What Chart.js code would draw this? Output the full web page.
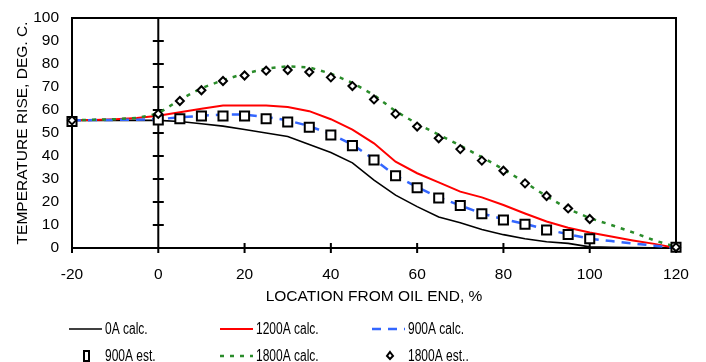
<!DOCTYPE html>
<html>
<head>
<meta charset="utf-8">
<script src="https://cdn.jsdelivr.net/npm/chart.js@4.4.0/dist/chart.umd.min.js"></script>
<style>
  html, body { margin: 0; padding: 0; background: #fff; }
</style>
</head>
<body>
<canvas id="grafico" width="706" height="362"></canvas>
<script>
// --- Datos ---
const posCalc = [-20, -15, -10, -5, 0, 5, 10, 15, 20, 25, 30, 35, 40, 45, 50, 55, 60, 65, 70, 75, 80, 85, 90, 95, 100, 105, 110, 115, 120];
const calc0A = [55.5, 55.5, 55.5, 55.5, 55.5, 55, 54, 53, 51.5, 50, 48.5, 45, 41.5, 37, 29.5, 23, 18, 13.5, 11, 8, 5.8, 4, 2.7, 2, 0.5, 0.3, 0.2, 0.1, 0];
const calc1200A = [55.5, 55.7, 56, 56.5, 57.5, 59, 60.5, 62, 62, 62, 61.3, 59.5, 56, 51.5, 45.5, 37.5, 32.5, 28.5, 24.5, 22, 18.7, 15, 11.5, 8.8, 6.7, 5, 3.3, 1.8, 0];
const calc900A = [55.5, 55.6, 55.7, 55.8, 56, 56.8, 57.5, 58, 58, 57, 55.5, 53, 49.5, 45, 38.5, 31.5, 26.5, 22, 18.5, 15, 12.5, 10.5, 8, 6, 4, 3, 2, 1, 0];
const calc1800A = [55.5, 55.8, 56, 56.5, 58.5, 64.5, 69.5, 73, 75.8, 78, 79, 78.5, 75.8, 71.8, 66.5, 59.5, 54, 49.3, 44.5, 39.5, 34.2, 28.5, 22.5, 17, 13, 10, 6.8, 3.3, 0.5];

const posEst = [-20, 0, 5, 10, 15, 20, 25, 30, 35, 40, 45, 50, 55, 60, 65, 70, 75, 80, 85, 90, 95, 100, 120];
const est900A = [55, 55.7, 56.2, 57.4, 57.4, 57.4, 56.2, 54.8, 52.5, 49.1, 44.5, 38.3, 31.4, 26.2, 21.7, 18.5, 14.9, 12.2, 10.3, 7.8, 5.9, 4, 0.3];
const est1800A = [55.5, 58.3, 63.9, 68.6, 72.6, 75, 77.1, 77.4, 76.5, 74.2, 70.4, 64.6, 58.3, 52.8, 47.7, 43, 38, 33.6, 28.1, 22.6, 17.2, 12.6, 0.3];

const tituloX = 'LOCATION FROM OIL END, %';
const tituloY = 'TEMPERATURE RISE, DEG. C.';

const FUENTE = '"Liberation Sans", Arial, sans-serif';

function puntos(xs, ys) {
    return xs.map((x, i) => ({ x: x, y: ys[i] }));
}

// --- Series ---
const series = [
    { label: '1800A est..', data: puntos(posEst, est1800A), showLine: false, pointStyle: 'rectRot', pointRadius: 4, borderWidth: 2, borderColor: '#000', backgroundColor: '#fff', marca: 'rombo' },
    { label: '900A est.', data: puntos(posEst, est900A), showLine: false, pointStyle: 'rect', pointRadius: 6.4, borderWidth: 2, borderColor: '#000', backgroundColor: '#fff', marca: 'cuadro' },
    { label: '1800A calc.', data: puntos(posCalc, calc1800A), borderColor: '#2a8c2a', borderWidth: 2.5, borderDash: [4, 6], pointRadius: 0 },
    { label: '900A calc.', data: puntos(posCalc, calc900A), borderColor: '#3366ff', borderWidth: 2.5, borderDash: [9, 7], pointRadius: 0 },
    { label: '1200A calc.', data: puntos(posCalc, calc1200A), borderColor: '#ff0000', borderWidth: 2, pointRadius: 0 },
    { label: '0A calc.', data: puntos(posCalc, calc0A), borderColor: '#000000', borderWidth: 1.6, pointRadius: 0 }
];
series.forEach(s => { s.fill = false; s.tension = 0; s.clip = false; });

// orden de la leyenda (3 columnas, 2 filas)
const ordenLeyenda = ['0A calc.', '1200A calc.', '900A calc.', '900A est.', '1800A calc.', '1800A est..'];

// --- Marco, eje en x=0 y marcas ---
const marcoPlugin = {
    id: 'marco',
    beforeDatasetsDraw(chart) {
        const { ctx, chartArea, scales } = chart;
        const x0 = scales.x.getPixelForValue(0);
        ctx.save();
        ctx.strokeStyle = '#000';
        ctx.lineWidth = 2;
        ctx.beginPath();
        ctx.moveTo(chartArea.left, chartArea.top);
        ctx.lineTo(chartArea.right, chartArea.top);
        ctx.lineTo(chartArea.right, chartArea.bottom);
        ctx.moveTo(x0, chartArea.top);
        ctx.lineTo(x0, chartArea.bottom + 5);
        // marcas en el eje x
        scales.x.ticks.forEach(t => {
            const px = scales.x.getPixelForValue(t.value);
            ctx.moveTo(px, chartArea.bottom - 5);
            ctx.lineTo(px, chartArea.bottom + 5);
        });
        // marcas en el eje vertical x=0
        scales.y.ticks.forEach(t => {
            if (t.value <= 0 || t.value >= 100) return;
            const py = scales.y.getPixelForValue(t.value);
            ctx.moveTo(x0 - 5.5, py);
            ctx.lineTo(x0 + 5.5, py);
        });
        ctx.stroke();
        ctx.restore();
    },
    afterDraw(chart) {
        const { ctx } = chart;
        const colX = [69, 220, 372];
        const filaY = [329, 356];
        ctx.save();
        ordenLeyenda.forEach((nombre, i) => {
            const s = series.find(d => d.label === nombre);
            const x = colX[i % 3];
            const y = filaY[Math.floor(i / 3)];
            ctx.strokeStyle = s.borderColor;
            ctx.lineWidth = s.marca ? 2 : s.borderWidth;
            if (s.marca === 'cuadro') {
                ctx.fillStyle = '#fff';
                ctx.fillRect(84, y - 5, 5, 10);
                ctx.strokeRect(84, y - 5, 5, 10);
            } else if (s.marca === 'rombo') {
                ctx.beginPath();
                ctx.moveTo(x + 18, y - 4);
                ctx.lineTo(x + 21, y);
                ctx.lineTo(x + 18, y + 3);
                ctx.lineTo(x + 15, y);
                ctx.closePath();
                ctx.stroke();
            } else {
                ctx.setLineDash(s.borderDash || []);
                ctx.beginPath();
                ctx.moveTo(x, y);
                ctx.lineTo(x + 33, y);
                ctx.stroke();
                ctx.setLineDash([]);
            }
            ctx.save();
            ctx.translate(x + 36, y);
            ctx.scale(0.75, 1);
            ctx.fillStyle = '#000';
            ctx.font = '16px ' + FUENTE;
            ctx.textBaseline = 'middle';
            ctx.fillText(nombre, 0, 1);
            ctx.restore();
        });
        ctx.restore();
    }
};

new Chart(document.getElementById('grafico').getContext('2d'), {
    type: 'line',
    data: { datasets: series },
    options: {
        responsive: false,
        animation: false,
        devicePixelRatio: 1,
        layout: { padding: { left: 0, right: 30, top: 18, bottom: 54 } },
        plugins: { legend: { display: false }, tooltip: { enabled: false } },
        scales: {
            x: {
                type: 'linear',
                min: -20,
                max: 120,
                ticks: { stepSize: 20, color: '#000', font: { family: FUENTE, size: 15.5 }, padding: 9, maxRotation: 0 },
                grid: { display: false },
                border: { display: true, color: '#000', width: 2 },
                title: { display: true, text: tituloX, color: '#000', font: { family: FUENTE, size: 15.5 }, padding: { top: 0, bottom: 2 } },
                afterFit(scale) { scale.height = 60; }
            },
            y: {
                min: 0,
                max: 100,
                ticks: { stepSize: 10, color: '#000', font: { family: FUENTE, size: 15.5 }, padding: 5 },
                grid: { display: false },
                border: { display: true, color: '#000', width: 2 },
                title: { display: true, text: tituloY, color: '#000', font: { family: FUENTE, size: 15.5 }, padding: { top: 13, bottom: 0 } },
                afterFit(scale) { scale.width = 72; }
            }
        }
    },
    plugins: [marcoPlugin]
});
</script>
</body>
</html>
